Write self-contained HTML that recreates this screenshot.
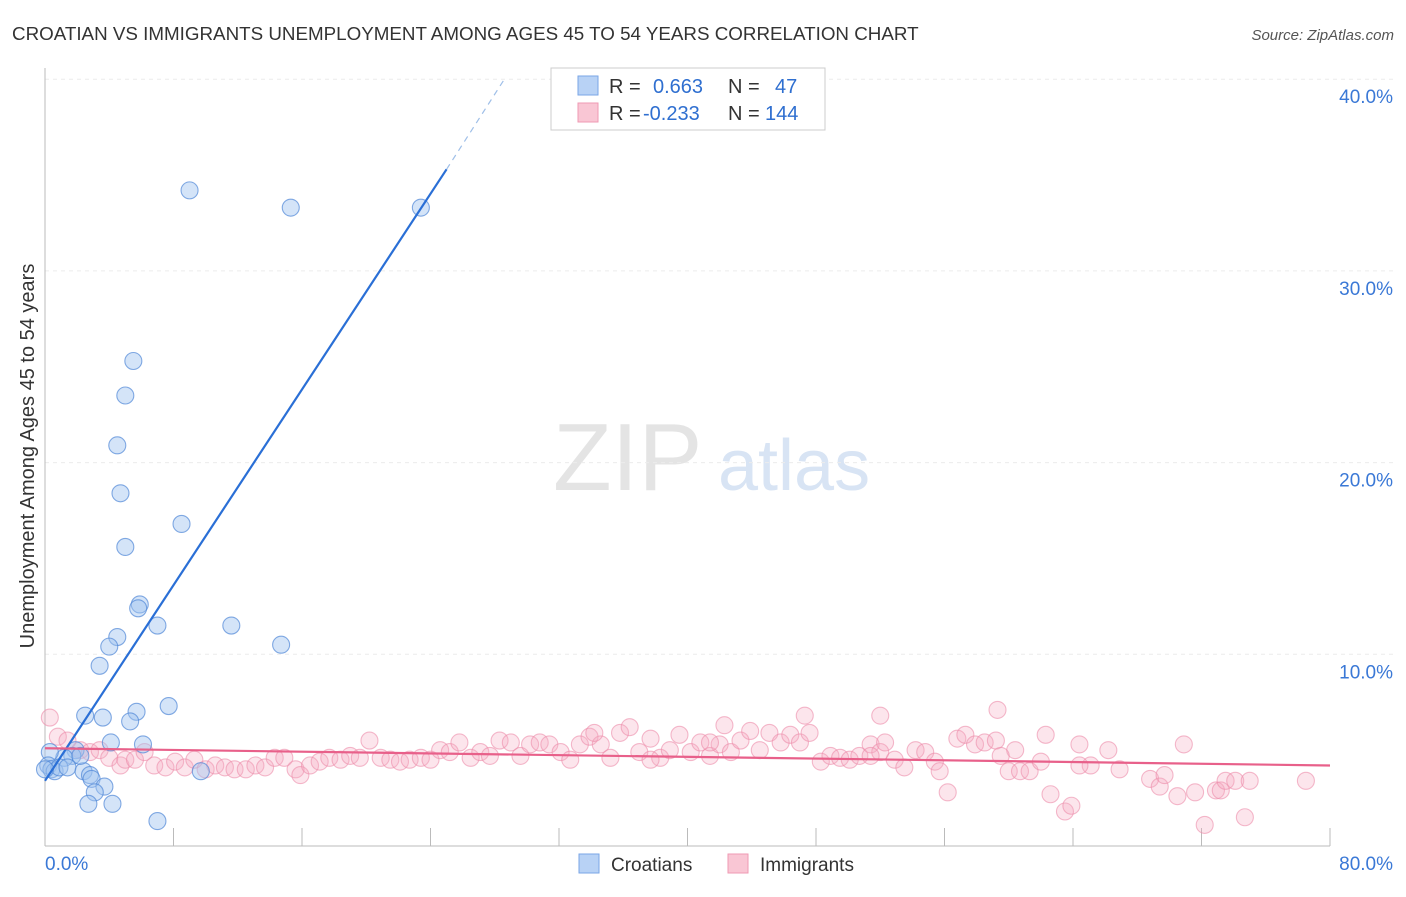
<!DOCTYPE html>
<html><head><meta charset="utf-8"><style>
body{margin:0;background:#fff;font-family:"Liberation Sans",sans-serif;}
svg text{font-family:"Liberation Sans",sans-serif;}
</style></head><body>
<svg id="chart" width="1406" height="892" viewBox="0 0 1406 892" xmlns="http://www.w3.org/2000/svg">
<text x="12" y="40" font-size="18.8" fill="#333">CROATIAN VS IMMIGRANTS UNEMPLOYMENT AMONG AGES 45 TO 54 YEARS CORRELATION CHART</text>
<text x="1394" y="40" font-size="15" fill="#555" text-anchor="end" font-style="italic">Source: ZipAtlas.com</text>
<g>
<text x="553" y="490" font-size="96" fill="#e4e4e4" font-family="Liberation Serif, serif">ZIP</text>
<text x="718" y="490" font-size="72" fill="#d8e4f4">atlas</text>
</g>
<g id="grid"></g>
<g id="axes"></g>
<g id="pts"></g>
<g id="trend"></g>
<text transform="translate(34,456) rotate(-90)" font-size="20" fill="#333" text-anchor="middle">Unemployment Among Ages 45 to 54 years</text>
<g>
<rect x="551" y="68" width="274" height="62" fill="#fff" stroke="#ccc"/>
<rect x="578" y="76" width="20" height="19" fill="#b8d2f5" stroke="#7aa6e6"/>
<rect x="578" y="103" width="20" height="19" fill="#f9c6d4" stroke="#ef9ab3"/>
<text x="609" y="93" font-size="20" fill="#333">R =</text>
<text x="653" y="93" font-size="20" fill="#2f6fd0">0.663</text>
<text x="728" y="93" font-size="20" fill="#333">N =</text>
<text x="775" y="93" font-size="20" fill="#2f6fd0">47</text>
<text x="609" y="120" font-size="20" fill="#333">R =</text>
<text x="643" y="120" font-size="20" fill="#2f6fd0">-0.233</text>
<text x="728" y="120" font-size="20" fill="#333">N =</text>
<text x="765" y="120" font-size="20" fill="#2f6fd0">144</text>
</g>
<g>
<rect x="579" y="854" width="20" height="19" fill="#b8d2f5" stroke="#7aa6e6"/>
<text x="611" y="871" font-size="19" fill="#333">Croatians</text>
<rect x="728" y="854" width="20" height="19" fill="#f9c6d4" stroke="#ef9ab3"/>
<text x="760" y="871" font-size="19" fill="#333">Immigrants</text>
</g>
</svg>
<script>
const categories = ["Croatians","Immigrants"];
const croatiansX = [9.0,15.3,23.4,5.5,5.0,4.5,4.7,5.0,8.5,5.9,5.8,7.0,11.6,4.5,4.0,14.7,3.4,7.7,2.5,3.6,5.7,5.3,4.1,6.1,1.9,1.7,1.2,0.3,0.2,0.4,0.6,0.9,1.4,2.4,2.8,2.9,3.7,3.1,2.7,4.2,7.0,9.7,2.2,0.0];
const croatiansY = [34.2,33.3,33.3,25.3,23.5,20.9,18.4,15.6,16.8,12.6,12.4,11.5,11.5,10.9,10.4,10.5,9.4,7.3,6.8,6.7,7.0,6.5,5.4,5.3,5.0,4.7,4.6,4.9,4.2,4.0,3.9,4.1,4.1,3.9,3.7,3.5,3.1,2.8,2.2,2.2,1.3,3.9,4.7,4.0];
const immigrantsX = [0.3,0.8,1.4,2.2,2.8,3.4,4.0,4.7,5.0,5.6,6.2,6.8,7.5,8.1,8.7,9.3,10.0,10.6,11.2,11.8,12.5,13.1,13.7,14.3,14.9,15.6,15.9,16.5,17.1,17.7,18.4,19.0,19.6,20.2,20.9,21.5,22.1,22.7,23.4,24.0,24.6,25.2,25.8,26.5,27.1,27.7,28.3,29.0,29.6,30.2,30.8,31.4,32.1,32.7,33.3,33.9,34.6,35.2,35.8,36.4,37.0,37.7,38.3,38.9,39.5,40.2,40.8,41.4,42.0,42.7,43.3,43.9,44.5,45.1,45.8,46.4,47.0,47.6,48.3,48.9,49.5,50.1,50.7,51.4,52.0,52.3,52.9,53.5,54.2,54.8,55.4,55.7,56.2,56.8,57.3,57.9,58.5,59.2,59.3,60.0,60.4,60.7,61.3,62.0,62.3,62.6,63.5,63.9,64.4,65.1,66.2,66.9,68.8,69.4,69.7,70.5,70.9,71.6,72.2,72.9,73.2,73.5,74.1,74.7,75.0,78.5,64.4,52.0,47.3,42.3,37.7,34.2,51.4,41.4,59.5];
const immigrantsY = [6.7,5.7,5.5,5.0,4.9,5.0,4.6,4.2,4.5,4.5,4.9,4.2,4.1,4.4,4.1,4.5,4.0,4.2,4.1,4.0,4.0,4.2,4.1,4.6,4.6,4.0,3.7,4.2,4.4,4.6,4.5,4.7,4.6,5.5,4.6,4.5,4.4,4.5,4.6,4.5,5.0,4.9,5.4,4.6,4.9,4.7,5.5,5.4,4.7,5.3,5.4,5.3,4.9,4.5,5.3,5.7,5.3,4.6,5.9,6.2,4.9,5.6,4.6,5.0,5.8,4.9,5.4,4.7,5.3,4.9,5.5,6.0,5.0,5.9,5.4,5.8,5.4,5.9,4.4,4.7,4.6,4.5,4.7,5.3,4.9,5.4,4.5,4.1,5.0,4.9,4.4,3.9,2.8,5.6,5.8,5.3,5.4,5.5,7.1,3.9,5.0,3.9,3.9,4.4,5.8,2.7,1.8,2.1,5.3,4.2,5.0,4.0,3.5,3.1,3.7,2.6,5.3,2.8,1.1,2.9,2.9,3.4,3.4,1.5,3.4,3.4,4.2,6.8,6.8,6.3,4.5,5.9,4.7,5.4,4.7];
const blueTrendX = [0,25];
const blueTrendY = [3.4,35.3];
const blueDashX = [25,28.6];
const blueDashY = [35.3,40];
const pinkTrendX = [0,80];
const pinkTrendY = [5.1,4.2];
const yTicks = [10,20,30,40];
const yTickLabels = ["10.0%","20.0%","30.0%","40.0%"];
const xTicks = [0,8,16,24,32,40,48,56,64,72,80];
const xEndLabels = ["0.0%","80.0%"];

const NS="http://www.w3.org/2000/svg";
const X0=45,X1=1330,Y0=846,PPY=19.17;
function sx(v){return X0+(X1-X0)*v/80;}
function sy(v){return Y0-v*PPY;}
function mk(tag,attrs,parent){const e=document.createElementNS(NS,tag);for(const k in attrs)e.setAttribute(k,attrs[k]);parent.appendChild(e);return e;}
const grid=document.getElementById('grid'),axes=document.getElementById('axes'),pts=document.getElementById('pts'),trend=document.getElementById('trend');
yTicks.forEach((t,i)=>{
  const l=mk('line',{x1:X0,x2:1394,y1:sy(t),y2:sy(t),stroke:'#ececec','stroke-dasharray':'4,4'},grid);
  
  
  const tx=mk('text',{x:1393,y:sy(t)+24,'font-size':19,fill:'#3a78d6','text-anchor':'end'},axes);
  tx.textContent=yTickLabels[i];
  
  
});
const ax=mk('line',{x1:X0,x2:X0,y1:68,y2:Y0,stroke:'#bbb'},axes);


const bx=mk('line',{x1:X0,x2:X1,y1:Y0,y2:Y0,stroke:'#bbb'},axes);


xTicks.forEach(t=>{
  const l=mk('line',{x1:sx(t),x2:sx(t),y1:Y0-18,y2:Y0,stroke:'#bbb'},axes);
  
  
});
const xl0=mk('text',{x:45,y:870,'font-size':19,fill:'#3a78d6'},axes);xl0.textContent=xEndLabels[0];


const xl1=mk('text',{x:1393,y:870,'font-size':19,fill:'#3a78d6','text-anchor':'end'},axes);xl1.textContent=xEndLabels[1];


immigrantsX.forEach((v,i)=>{
  const c=mk('circle',{cx:sx(v),cy:sy(immigrantsY[i]),r:8.5,fill:'rgba(246,170,192,0.3)',stroke:'rgba(236,140,170,0.6)','stroke-width':1.1},pts);
  
  
});
croatiansX.forEach((v,i)=>{
  const c=mk('circle',{cx:sx(v),cy:sy(croatiansY[i]),r:8.5,fill:'rgba(160,195,240,0.45)',stroke:'rgba(80,135,215,0.7)','stroke-width':1.1},pts);
  
  
});
const bt=mk('line',{x1:sx(blueTrendX[0]),y1:sy(blueTrendY[0]),x2:sx(blueTrendX[1]),y2:sy(blueTrendY[1]),stroke:'#2a6fd6','stroke-width':2.2},trend);


const bd=mk('line',{x1:sx(blueDashX[0]),y1:sy(blueDashY[0]),x2:sx(blueDashX[1]),y2:sy(blueDashY[1]),stroke:'#9fbfe8','stroke-width':1.2,'stroke-dasharray':'6,5'},trend);


const pt=mk('line',{x1:sx(pinkTrendX[0]),y1:sy(pinkTrendY[0]),x2:sx(pinkTrendX[1]),y2:sy(pinkTrendY[1]),stroke:'#e8608a','stroke-width':2.2},trend);


</script>
</body></html>
